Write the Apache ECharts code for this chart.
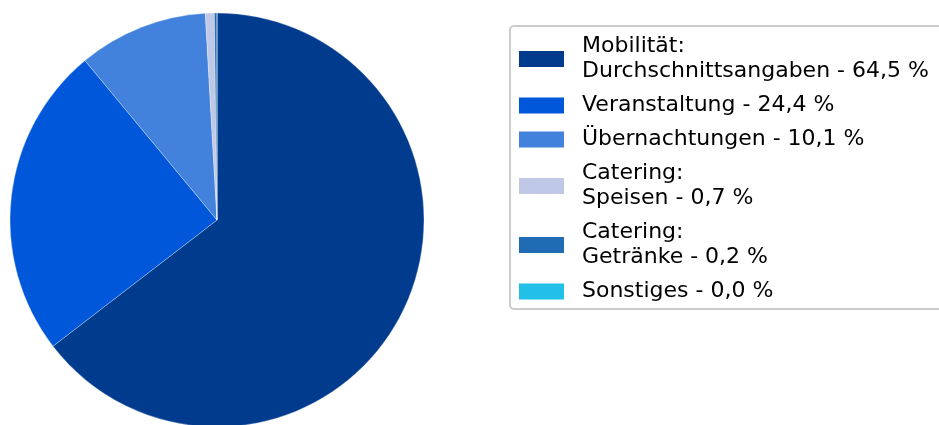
<!DOCTYPE html>
<html>
<head>
<meta charset="utf-8">
<script src="https://cdn.jsdelivr.net/npm/echarts@6/dist/echarts.min.js"></script>
<style>
  html, body { margin: 0; padding: 0; background: #fff; }
  #chart { width: 939px; height: 425px; }
</style>
</head>
<body>
<div id="chart"></div>
<script>
// Kostenanteile
var categories = [
  'Mobilität:\nDurchschnittsangaben',
  'Veranstaltung',
  'Übernachtungen',
  'Catering:\nSpeisen',
  'Catering:\nGetränke',
  'Sonstiges'
];
var values = [64.5, 24.4, 10.1, 0.7, 0.2, 0.0];
var colors = ['#003b8e', '#0057d9', '#4282dc', '#c0c8e8', '#1f6cb4', '#20c0e8'];

function fmtPct(v) {
  return v.toFixed(1).replace('.', ',') + ' %';
}

var chart = echarts.init(document.getElementById('chart'));
chart.setOption({
  animation: false,
  legend: {
    orient: 'vertical',
    left: 510,
    top: 26,
    padding: [8, 30, 5, 9],
    itemWidth: 45,
    itemHeight: 16,
    itemGap: 9,
    icon: 'rect',
    itemStyle: { borderWidth: 0 },
    borderColor: '#cccccc',
    borderWidth: 2,
    borderRadius: 4,
    backgroundColor: '#fff',
    textStyle: {
      fontFamily: 'DejaVu Sans',
      fontSize: 22,
      lineHeight: 25,
      color: '#000',
      padding: [0, 0, 0, 13]
    },
    formatter: function (name) {
      var i = categories.indexOf(name);
      return name + ' - ' + fmtPct(values[i]);
    },
    data: categories
  },
  series: [{
    type: 'pie',
    center: [217, 220],
    radius: 207,
    startAngle: 90,
    clockwise: true,
    label: { show: false },
    labelLine: { show: false },
    itemStyle: { borderColor: '#fff', borderWidth: 0.3 },
    emphasis: { disabled: true },
    data: categories.map(function (c, i) {
      return { name: c, value: values[i], itemStyle: { color: colors[i] } };
    })
  }]
});
</script>
</body>
</html>
